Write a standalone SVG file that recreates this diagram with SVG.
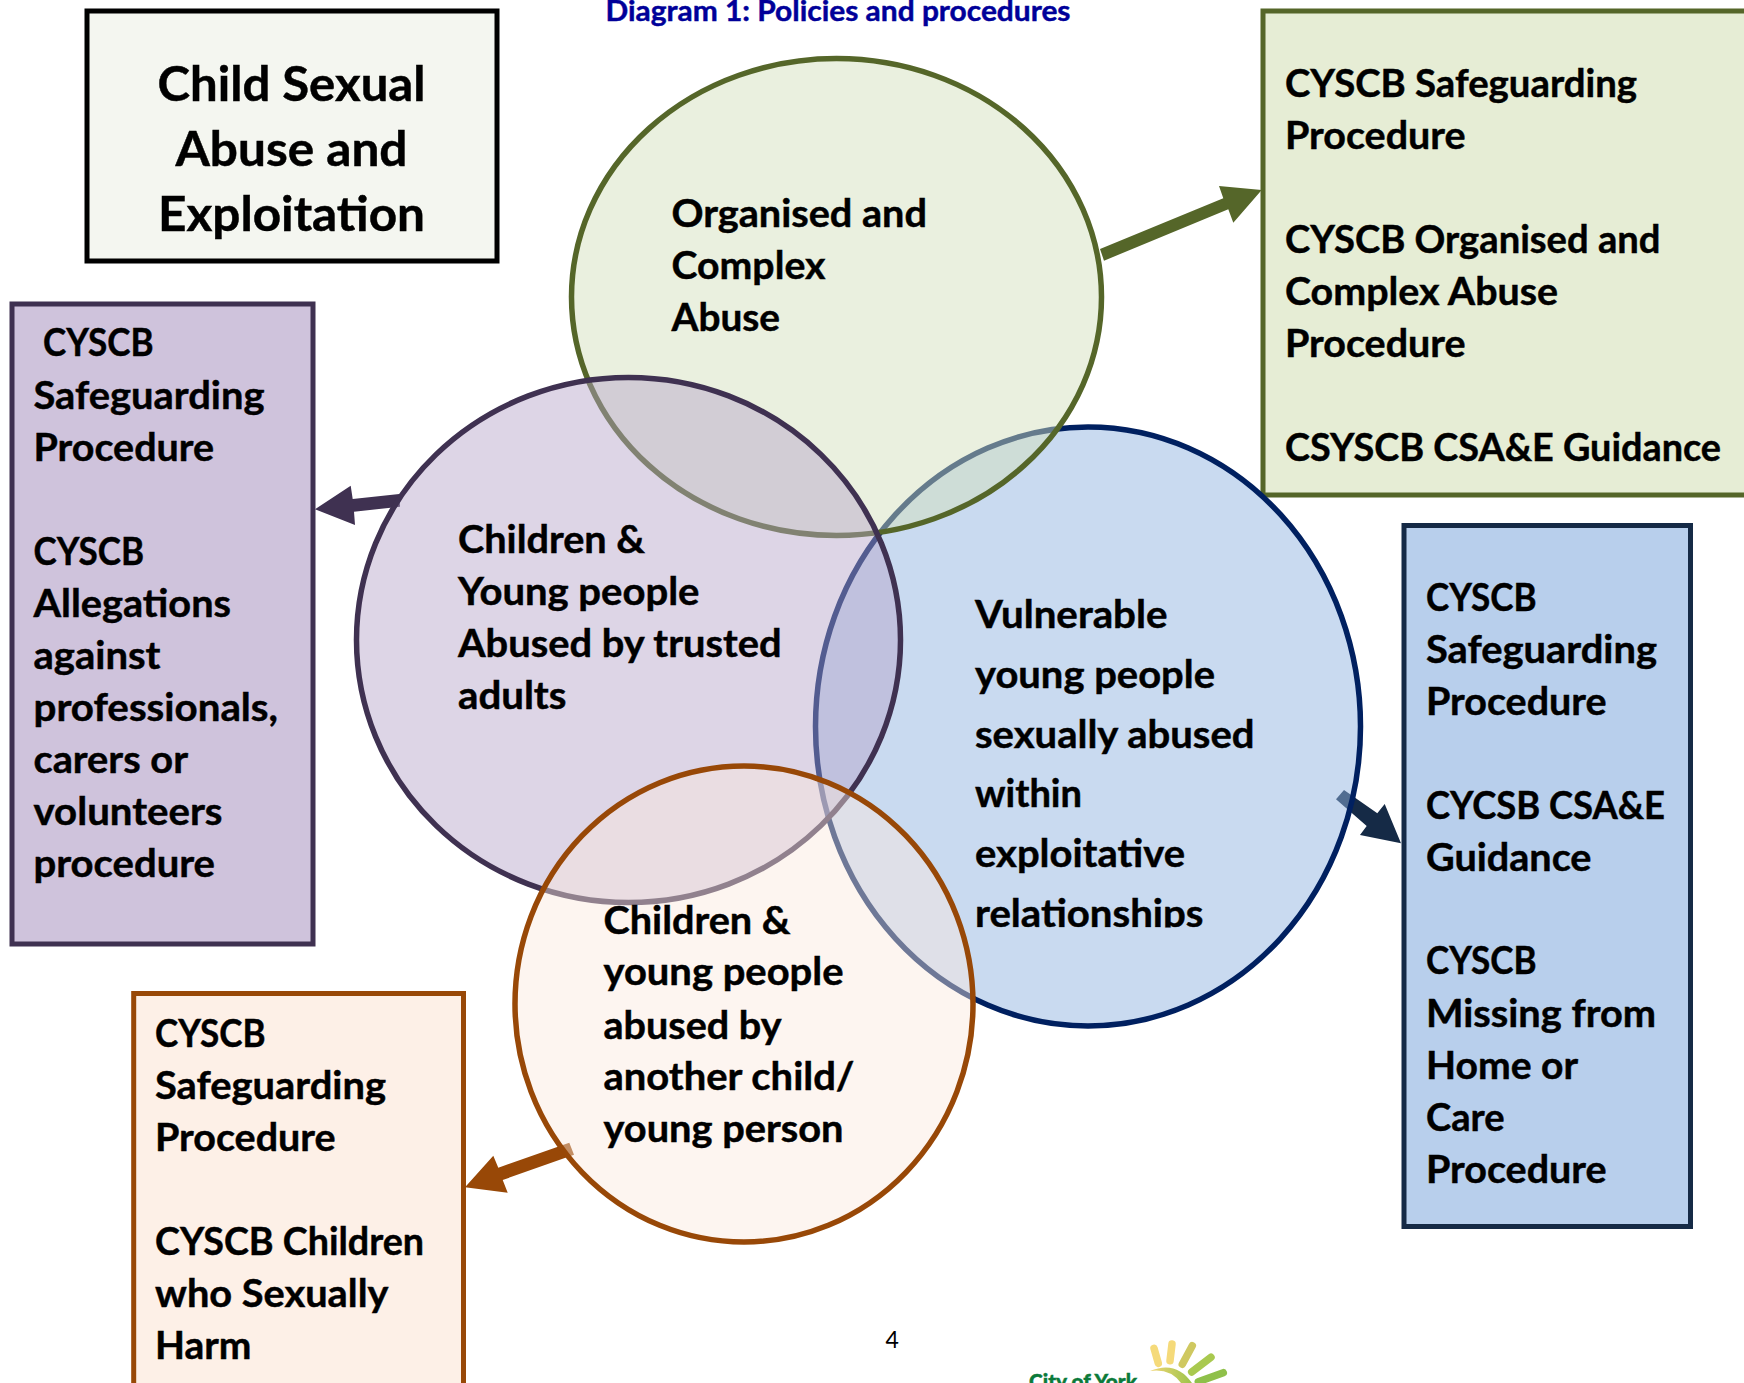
<svg xmlns="http://www.w3.org/2000/svg" width="1744" height="1383" viewBox="0 0 1744 1383">
<style>
text{font-family:"Lato","Carlito","Liberation Sans",sans-serif;font-weight:700;font-size:37.5px;fill:#000;stroke:#000;stroke-width:.45px;transform:translateY(1px)}
.t{font-size:47.5px}
.box{stroke-width:5}
.c{stroke-width:5.5}
</style>
<defs>
<clipPath id="clipRel"><rect x="960" y="860" width="280" height="67.5"/></clipPath>
<linearGradient id="arc" x1="0" x2="1"><stop offset="0" stop-color="#f2d675"/><stop offset="1" stop-color="#9cc44a"/></linearGradient>
</defs>
<rect width="1744" height="1383" fill="#fff"/>
<g id="connectors">
<polygon fill="#556629" points="1100,249 1223.3,198.3 1219,186 1261.7,190 1233.3,222.7 1228.3,209.3 1104,260.7"/>
<polygon fill="#3f3151" points="315,509.3 350.7,485.7 352.7,499 399.3,494 400,506.7 354,511.7 355,525"/>
<polygon fill="#152a46" points="1344,790 1377.3,813.3 1384.7,804 1401,843.3 1360,835 1366.7,826 1336,799.3"/>
<polygon fill="#984807" points="569.3,1142.7 574,1154.7 502.7,1180 507.7,1192.7 465,1187.3 493.3,1155.7 498.3,1167.7"/>
</g>
<g id="heading"><text x="605.5" y="20" style="font-size:29px;fill:#000099;stroke:#000099" textLength="465" lengthAdjust="spacingAndGlyphs">Diagram 1: Policies and procedures</text></g>
<g id="title">
<rect class="box" x="87" y="11" width="410" height="250" fill="#f4f6f0" stroke="#000"/>
<text class="t" x="157.5" y="100" textLength="268" lengthAdjust="spacingAndGlyphs">Child Sexual</text>
<text class="t" x="175.5" y="165" textLength="232" lengthAdjust="spacingAndGlyphs">Abuse and</text>
<text class="t" x="158" y="230" textLength="267" lengthAdjust="spacingAndGlyphs">Exploitation</text>
</g>
<g id="box-green">
<rect class="box" x="1263" y="11" width="500" height="484" fill="#e6edd5" stroke="#556629"/>
<text x="1285" y="95.6" textLength="352" lengthAdjust="spacingAndGlyphs">CYSCB Safeguarding</text>
<text x="1285" y="148" textLength="180.5" lengthAdjust="spacingAndGlyphs">Procedure</text>
<text x="1285" y="252" textLength="375.5" lengthAdjust="spacingAndGlyphs">CYSCB Organised and</text>
<text x="1285" y="304" textLength="273" lengthAdjust="spacingAndGlyphs">Complex Abuse</text>
<text x="1285" y="356" textLength="180.5" lengthAdjust="spacingAndGlyphs">Procedure</text>
<text x="1285" y="460" textLength="436" lengthAdjust="spacingAndGlyphs">CSYSCB CSA&amp;E Guidance</text>
</g>
<g id="box-purple">
<rect class="box" x="12" y="304" width="301" height="640" fill="#cfc3dc" stroke="#3f3151"/>
<text x="43" y="355" textLength="110.5" lengthAdjust="spacingAndGlyphs">CYSCB</text>
<text x="33.5" y="408" textLength="231" lengthAdjust="spacingAndGlyphs">Safeguarding</text>
<text x="33.5" y="460" textLength="180.5" lengthAdjust="spacingAndGlyphs">Procedure</text>
<text x="33.5" y="564" textLength="110.5" lengthAdjust="spacingAndGlyphs">CYSCB</text>
<text x="33.5" y="616" textLength="197.5" lengthAdjust="spacingAndGlyphs">Allegations</text>
<text x="33.5" y="668" textLength="127" lengthAdjust="spacingAndGlyphs">against</text>
<text x="33.5" y="720" textLength="244.5" lengthAdjust="spacingAndGlyphs">professionals,</text>
<text x="33.5" y="772" textLength="154.5" lengthAdjust="spacingAndGlyphs">carers or</text>
<text x="33.5" y="824" textLength="189" lengthAdjust="spacingAndGlyphs">volunteers</text>
<text x="33.5" y="876" textLength="181.5" lengthAdjust="spacingAndGlyphs">procedure</text>
</g>
<g id="box-blue">
<rect class="box" x="1404" y="525.5" width="286.5" height="701" fill="#b8cfec" stroke="#152a46"/>
<text x="1426" y="609.5" textLength="110.5" lengthAdjust="spacingAndGlyphs">CYSCB</text>
<text x="1426" y="662" textLength="231" lengthAdjust="spacingAndGlyphs">Safeguarding</text>
<text x="1426" y="714" textLength="180.5" lengthAdjust="spacingAndGlyphs">Procedure</text>
<text x="1426" y="817.5" textLength="239" lengthAdjust="spacingAndGlyphs">CYCSB CSA&amp;E</text>
<text x="1426" y="870" textLength="165.5" lengthAdjust="spacingAndGlyphs">Guidance</text>
<text x="1426" y="973" textLength="110.5" lengthAdjust="spacingAndGlyphs">CYSCB</text>
<text x="1426" y="1025.5" textLength="230" lengthAdjust="spacingAndGlyphs">Missing from</text>
<text x="1426" y="1078" textLength="152" lengthAdjust="spacingAndGlyphs">Home or</text>
<text x="1426" y="1130" textLength="78.5" lengthAdjust="spacingAndGlyphs">Care</text>
<text x="1426" y="1182" textLength="180.5" lengthAdjust="spacingAndGlyphs">Procedure</text>
</g>
<g id="box-orange">
<rect class="box" x="133.7" y="993.5" width="329.8" height="420" fill="#fdf0e7" stroke="#984807"/>
<text x="155" y="1045.5" textLength="110.5" lengthAdjust="spacingAndGlyphs">CYSCB</text>
<text x="155" y="1098" textLength="231" lengthAdjust="spacingAndGlyphs">Safeguarding</text>
<text x="155" y="1150" textLength="180.5" lengthAdjust="spacingAndGlyphs">Procedure</text>
<text x="155" y="1253.5" textLength="269" lengthAdjust="spacingAndGlyphs">CYSCB Children</text>
<text x="155" y="1306" textLength="233.5" lengthAdjust="spacingAndGlyphs">who Sexually</text>
<text x="155" y="1358" textLength="96.5" lengthAdjust="spacingAndGlyphs">Harm</text>
</g>
<g id="circle-blue">
<ellipse class="c" cx="1088" cy="726.5" rx="272.5" ry="299.5" fill="#91b4e0" fill-opacity=".49" stroke="#002060"/>
<text x="975" y="627" textLength="192.5" lengthAdjust="spacingAndGlyphs">Vulnerable</text>
<text x="975" y="687" textLength="240" lengthAdjust="spacingAndGlyphs">young people</text>
<text x="975" y="747" textLength="279.5" lengthAdjust="spacingAndGlyphs">sexually abused</text>
<text x="975" y="806" textLength="107" lengthAdjust="spacingAndGlyphs">within</text>
<text x="975" y="866" textLength="210" lengthAdjust="spacingAndGlyphs">exploitative</text>
<g clip-path="url(#clipRel)"><text x="975" y="925.5" textLength="228.5" lengthAdjust="spacingAndGlyphs">relationships</text></g>
</g>
<g id="circle-green">
<ellipse class="c" cx="836.5" cy="297" rx="265" ry="238.5" fill="#d3e0bc" fill-opacity=".48" stroke="#556629"/>
<text x="671.5" y="226" textLength="255.5" lengthAdjust="spacingAndGlyphs">Organised and</text>
<text x="671.5" y="278" textLength="154" lengthAdjust="spacingAndGlyphs">Complex</text>
<text x="671.5" y="330" textLength="108.5" lengthAdjust="spacingAndGlyphs">Abuse</text>
</g>
<g id="circle-purple">
<ellipse class="c" cx="628.5" cy="640" rx="272" ry="262.5" fill="#b5a4c8" fill-opacity=".46" stroke="#3f3151"/>
<text x="458" y="552" textLength="187" lengthAdjust="spacingAndGlyphs">Children &amp;</text>
<text x="458" y="604" textLength="241.5" lengthAdjust="spacingAndGlyphs">Young people</text>
<text x="458" y="656" textLength="323.5" lengthAdjust="spacingAndGlyphs">Abused by trusted</text>
<text x="458" y="708" textLength="108.5" lengthAdjust="spacingAndGlyphs">adults</text>
</g>
<g id="circle-orange">
<ellipse class="c" cx="744" cy="1004" rx="229" ry="238" fill="#fbe9dd" fill-opacity=".44" stroke="#984807"/>
<text x="603.5" y="933" textLength="187" lengthAdjust="spacingAndGlyphs">Children &amp;</text>
<text x="603.5" y="984" textLength="240" lengthAdjust="spacingAndGlyphs">young people</text>
<text x="603.5" y="1037.7" textLength="178" lengthAdjust="spacingAndGlyphs">abused by</text>
<text x="603.5" y="1089" textLength="251" lengthAdjust="spacingAndGlyphs">another child/</text>
<text x="603.5" y="1141" textLength="240" lengthAdjust="spacingAndGlyphs">young person</text>
</g>
<g id="page-number"><text x="885.5" y="1347" style="font-size:23px;font-weight:400;stroke:none">4</text></g>
<g id="logo">
<text x="1029" y="1388" style="font-size:21px;fill:#0b7a3a;stroke:#0b7a3a;font-weight:900" textLength="108" lengthAdjust="spacingAndGlyphs">City of York</text>
<g fill="none" stroke-linecap="round" stroke-width="7.5">
<path d="M1154 1348.3L1158.3 1363.3" stroke="#f5da7a"/>
<path d="M1172 1344L1170 1360.7" stroke="#f5da7a"/>
<path d="M1192.3 1345.7L1182.3 1364.3" stroke="#cfc860"/>
<path d="M1211 1357.3L1191.7 1372" stroke="#a9c94f"/>
<path d="M1223.3 1372.7L1198.3 1381.7" stroke="#8fc04a"/>
</g>
<path d="M1150 1371Q1176 1360 1192 1383L1181 1383Q1170 1368 1150 1371Z" fill="url(#arc)"/>
</g>
</svg>
